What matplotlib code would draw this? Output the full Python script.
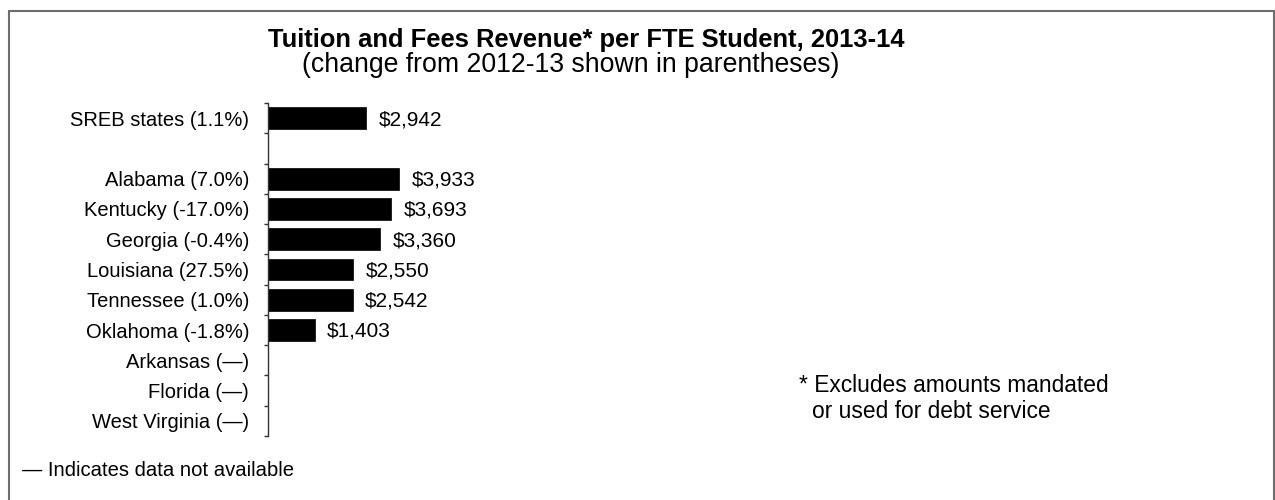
import numpy as np
import matplotlib.pyplot as plt
from matplotlib.patches import Rectangle
from matplotlib.ticker import FixedLocator

plt.rcParams['font.family'] = ['Liberation Sans', 'DejaVu Sans']

# rows top to bottom; blank row separates the regional total from the states
labels = ['SREB states (1.1%)', '', 'Alabama (7.0%)', 'Kentucky (-17.0%)',
          'Georgia (-0.4%)', 'Louisiana (27.5%)', 'Tennessee (1.0%)',
          'Oklahoma (-1.8%)', 'Arkansas (\u2014)', 'Florida (\u2014)',
          'West Virginia (\u2014)']
revenue = [2942, None, 3933, 3693, 3360, 2550, 2542, 1403, None, None, None]

W, H = 1275, 500
fig = plt.figure(figsize=(W / 100, H / 100), dpi=100)
ax = fig.add_axes([268 / W, 1 - 436 / H, (1200 - 268) / W, 333 / H])

y = np.arange(len(labels))
vals = np.array([v if v is not None else 0 for v in revenue], dtype=float)
ax.barh(y, vals, height=0.72, color='black', edgecolor='black', linewidth=0.5)

for yi, v in zip(y, revenue):
    if v is None:
        continue
    ax.annotate('${:,}'.format(v), xy=(v, yi), xytext=(9, -1),
                textcoords='offset points', va='center', ha='left',
                fontsize=15)

ax.set_xlim(0, 28000)
ax.set_ylim(len(labels) - 0.5, -0.5)

ax.yaxis.set_major_locator(FixedLocator(y))
ax.set_yticklabels(labels, fontsize=14.5)
ax.yaxis.set_minor_locator(FixedLocator(np.arange(len(labels) + 1) - 0.5))
ax.tick_params(axis='y', which='major', length=0, pad=13.5)
ax.tick_params(axis='y', which='minor', length=3, width=1, color='#333333')
ax.set_xticks([])
for s in ['top', 'right', 'bottom']:
    ax.spines[s].set_visible(False)
ax.spines['left'].set_color('#333333')
ax.spines['left'].set_linewidth(1)

fig.text(586 / W, 1 - 47 / H, 'Tuition and Fees Revenue* per FTE Student, 2013-14',
         ha='center', va='baseline', fontsize=18.4, fontweight='bold')
fig.text(571 / W, 1 - 72 / H, '(change from 2012-13 shown in parentheses)',
         ha='center', va='baseline', fontsize=19.2)

fig.text(799 / W, 1 - 392 / H, '* Excludes amounts mandated',
         ha='left', va='baseline', fontsize=16.4)
fig.text(812 / W, 1 - 418 / H, 'or used for debt service',
         ha='left', va='baseline', fontsize=16.4)
fig.text(22 / W, 1 - 476 / H, '\u2014 Indicates data not available',
         ha='left', va='baseline', fontsize=14.6)

# grey frame round the chart, open at the bottom edge
fig.patches.append(Rectangle((8.5 / W, -0.1), (1273.5 - 8.5) / W,
                             1.1 - 11.5 / H, transform=fig.transFigure,
                             fill=False, edgecolor='#6e6e6e', linewidth=1.5))

fig.savefig('out.png', dpi=100)
